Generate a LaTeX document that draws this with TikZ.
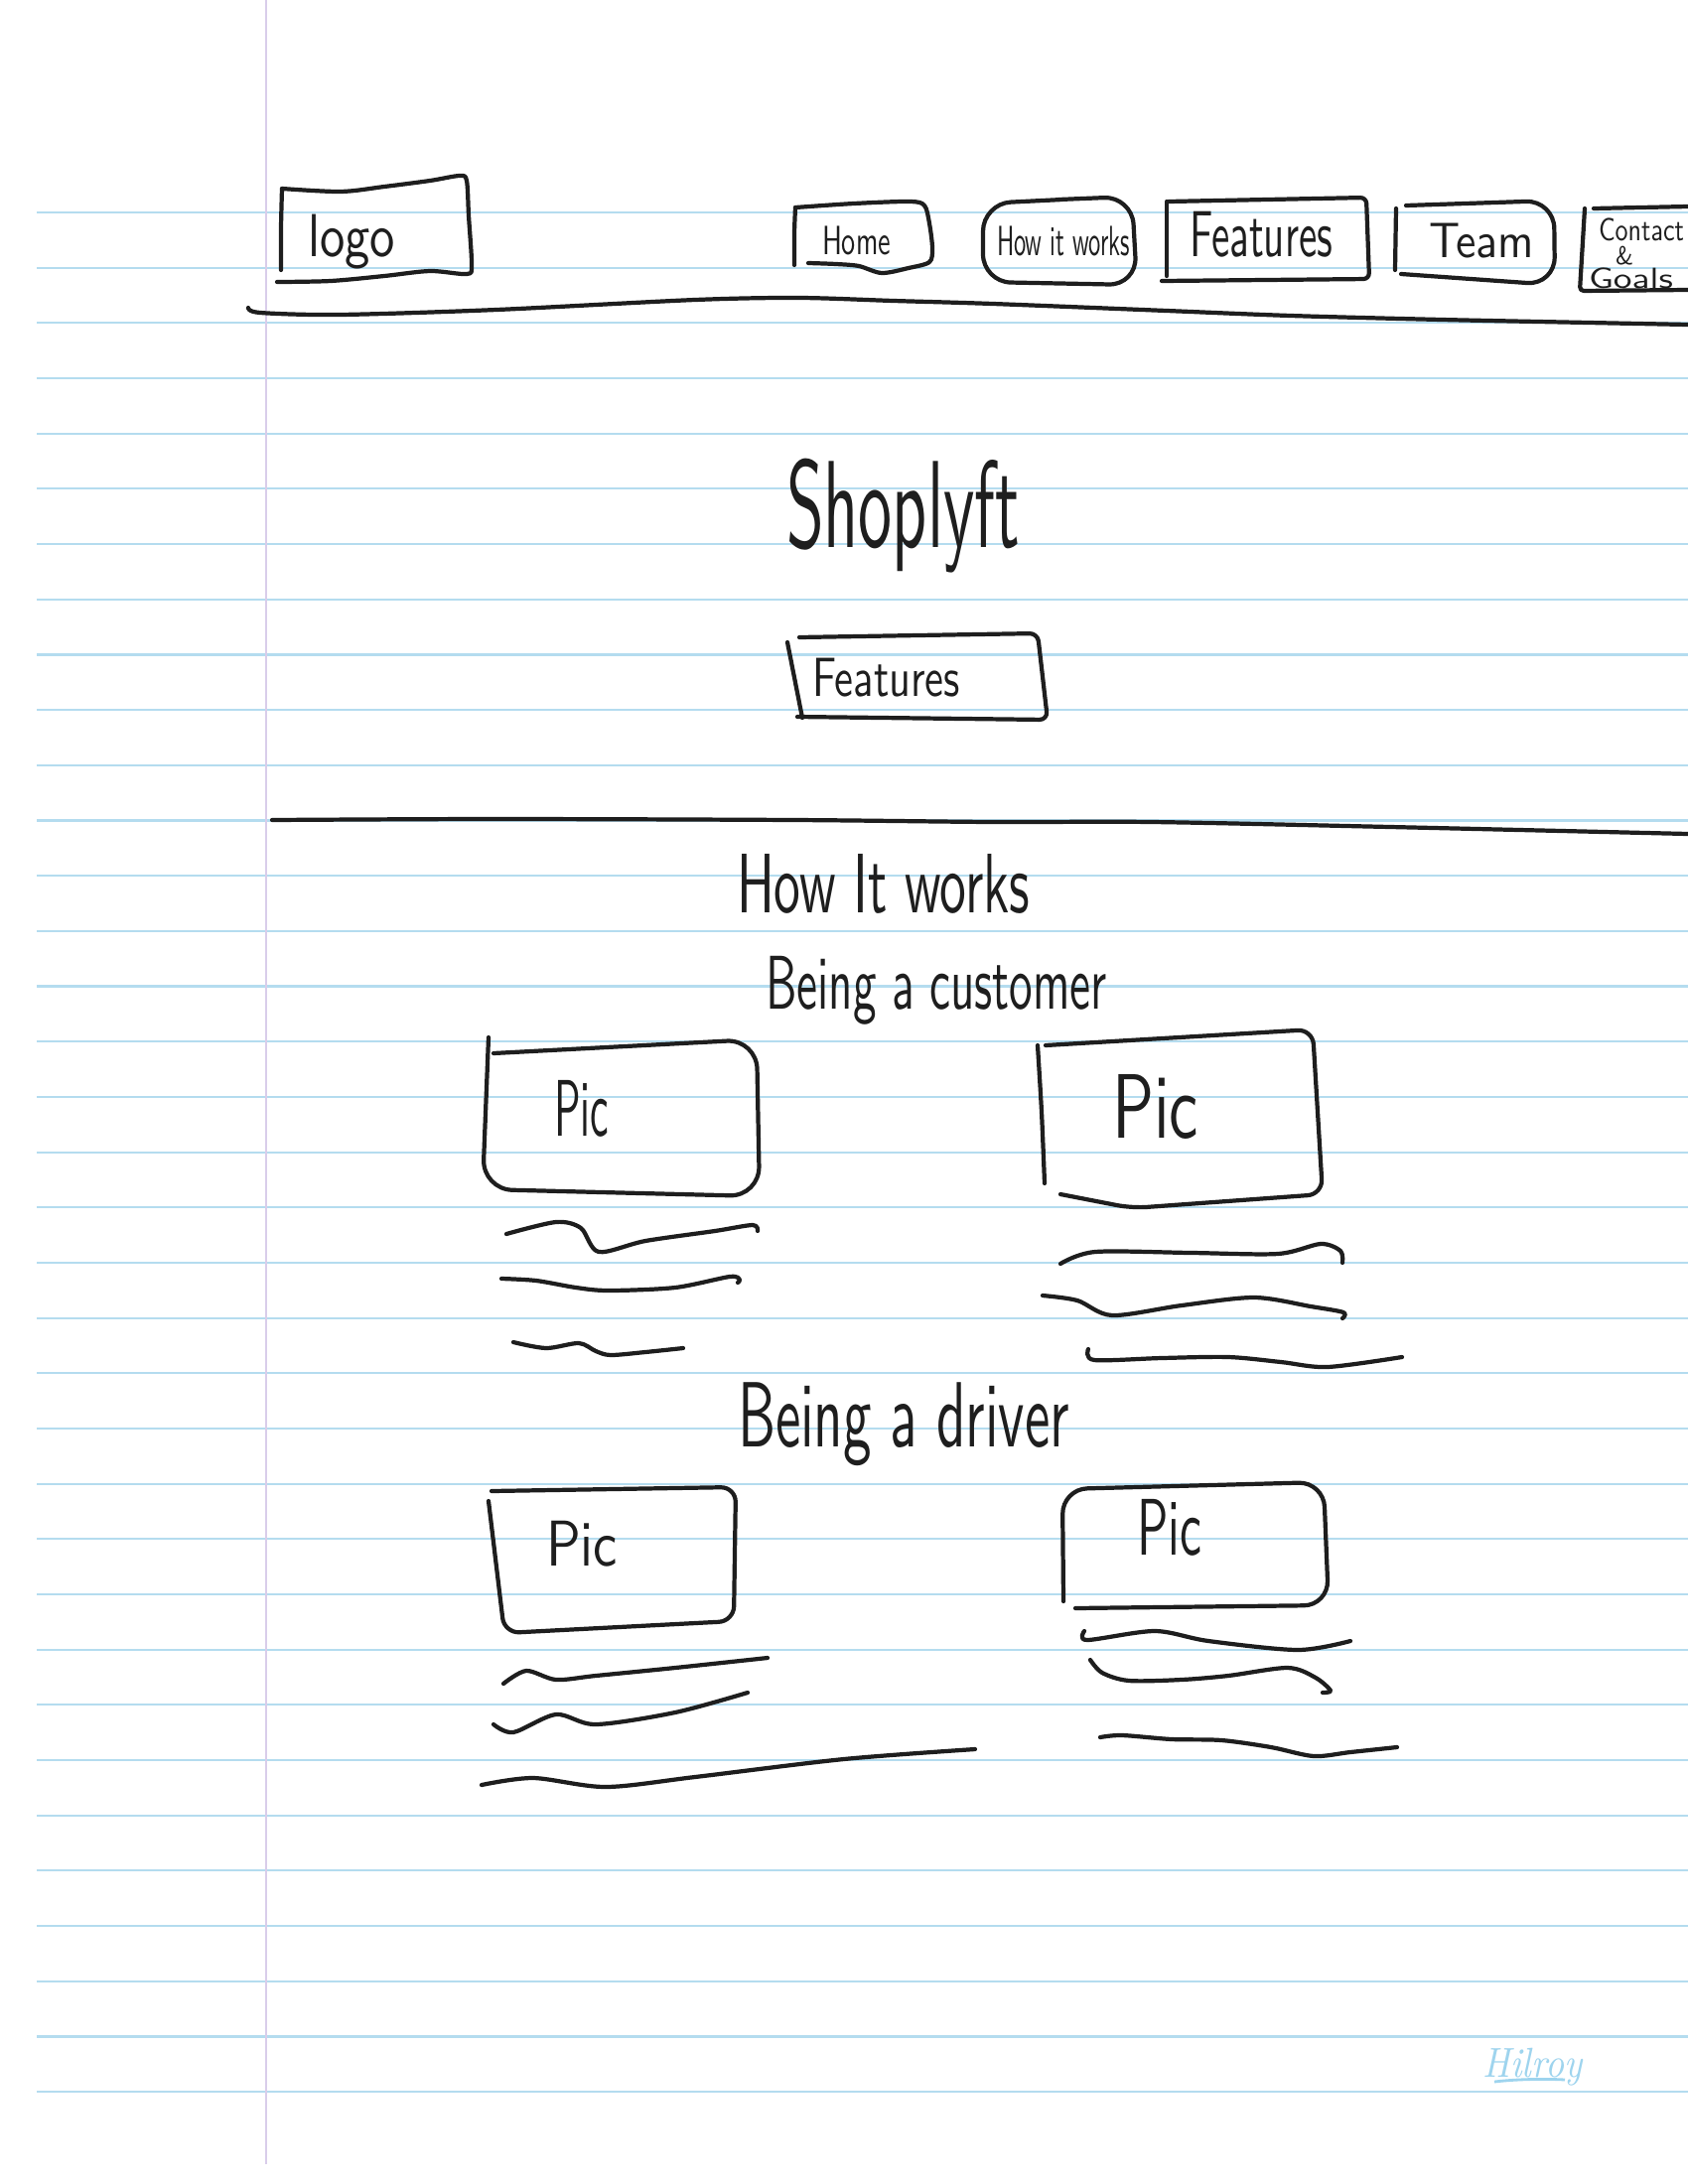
\documentclass[tikz,border=0pt]{standalone}
\usepackage{graphicx}
\definecolor{penc}{HTML}{1E1E1E}
\definecolor{rulec}{HTML}{B4DCEF}
\definecolor{marginc}{HTML}{D9CDEA}
\definecolor{hilc}{HTML}{9ED4EE}
\tikzset{
  pen/.style={draw=penc, line width=1.2pt, line cap=round, line join=round},
  ruleline/.style={draw=rulec, line width=0.6pt},
  hw/.style={inner sep=0pt, outer sep=0pt, text=penc, font=\sffamily, anchor=north west},
}
\newcommand\hwt[6]{\node[hw] (#1) at (#2,#3) {\resizebox*{#4mm}{#5mm}{#6}};}
\begin{document}
\begin{tikzpicture}[x=0.1mm,y=-0.1mm]
\useasboundingbox (0,0) rectangle (1700,2200);
\fill[white] (0,0) rectangle (1700,2200);
\begin{scope}
\clip (0,0) rectangle (1700,2200);
% ruled paper
\foreach \i in {0,...,34} {
  \pgfmathsetmacro\yy{214+55.68*\i}
  \draw[ruleline] (37,\yy) -- (1700,\yy);
}
\draw[draw=marginc, line width=0.6pt] (268,0) -- (268,2180);
\node[inner sep=0pt, anchor=north west, text=hilc, font=\itshape] (hilroy) at (1493,2062) {\resizebox*{10mm}{3.8mm}{Hilroy}};
\draw[draw=hilc, line width=0.8pt] (1505,2097) .. controls (1530,2094) and (1560,2094) .. (1576,2095);

% ---------- navigation bar ----------
\draw[pen] plot[smooth, tension=0.5] coordinates {(283,272) (283,230) (284,190)};
\draw[pen] plot[smooth, tension=0.5] coordinates {(284,190) (343,193) (387,188) (433,182) (463,177) (470,182) (472,217) (475,267) (470,276) (433,273) (387,278) (333,283) (279,284)};
\hwt{logo}{310}{216}{8.8}{5.5}{logo}

\draw[pen] plot[smooth, tension=0.5] coordinates {(800,267) (800,235) (801,209)};
\draw[pen] plot[smooth, tension=0.5] coordinates {(801,209) (860,205) (916,203) (931,207) (936,225) (939,250) (936,264) (915,270) (888,275) (865,268) (842,266) (814,265)};
\hwt{home}{828}{228}{6.9}{2.9}{Home}

\draw[pen, rounded corners=2.8mm] (1066,201) -- (1140,198) -- (1145,287) -- (990,284) -- (990,205) -- (1070,201);
\hwt{howit}{1004}{228}{13.4}{3.0}{How it works}

\draw[pen] (1175,278) -- (1175,203);
\draw[pen, rounded corners=0.6mm] (1177,203) -- (1376,199) -- (1379,281) -- (1170,283);
\hwt{featnav}{1198}{213}{14.4}{4.6}{Features}

\draw[pen] (1406,210) -- (1405,272);
\draw[pen, rounded corners=2.8mm] (1416,207) -- (1565,202) -- (1566,287) -- (1411,276);
\hwt{team}{1439}{225}{10.6}{3.5}{Team}

\draw[pen] (1605,210) -- (1700,208);
\draw[pen, rounded corners=0.4mm] (1596,210) -- (1591,293) -- (1700,292);
\hwt{contact}{1610}{220}{8.6}{2.3}{Contact}
\hwt{amp}{1627}{248}{1.8}{1.9}{\&}
\hwt{goals}{1600}{270}{8.5}{2.1}{Goals}

\draw[pen] plot[smooth] coordinates {(250,310) (262,315) (342,317) (500,312) (700,302) (805,300) (900,303) (1000,306) (1175,313) (1300,318) (1452,322) (1600,325) (1700,327)};

% ---------- hero ----------
\hwt{title}{792}{462}{23.5}{11.5}{Shoplyft}
\draw[pen] (793,647) -- (808,723);
\draw[pen, rounded corners=0.8mm] (805,642) -- (1045,638) -- (1055,725) -- (803,722);
\hwt{featbtn}{818}{663}{14.9}{3.9}{Features}

\draw[pen] plot[smooth] coordinates {(274,826) (500,825) (800,826) (1000,828) (1160,828) (1400,833) (1700,840)};

% ---------- how it works ----------
\hwt{howhead}{742}{860}{29.5}{6.0}{How It works}
\hwt{cust}{771}{963}{34.4}{6.9}{Being a customer}

\draw[pen, rounded corners=3mm] (492,1045) -- (486,1198) -- (765,1205) -- (762,1047) -- (497,1061);
\hwt{pic1}{558}{1088}{5.5}{5.7}{Pic}
\draw[pen] plot[smooth] coordinates {(510,1243) (560,1231) (585,1237) (603,1261) (650,1250) (720,1240) (758,1234) (763,1240)};
\draw[pen] plot[smooth] coordinates {(505,1288) (540,1290) (580,1297) (613,1300) (680,1297) (735,1286) (745,1289) (743,1292)};
\draw[pen] plot[smooth] coordinates {(517,1352) (550,1358) (583,1353) (600,1361) (615,1365) (650,1362) (688,1358)};

\draw[pen] plot[smooth] coordinates {(1045,1053) (1049,1120) (1052,1192)};
\draw[pen, rounded corners=1.5mm] (1053,1053) -- (1322,1037) -- (1332,1203) -- (1140,1217) -- (1068,1203);
\hwt{pic2}{1120}{1082}{8.7}{6.5}{Pic}
\draw[pen] plot[smooth] coordinates {(1068,1273) (1103,1261) (1200,1262) (1287,1263) (1330,1253) (1350,1260) (1352,1272)};
\draw[pen] plot[smooth] coordinates {(1050,1305) (1085,1310) (1120,1325) (1190,1315) (1263,1307) (1320,1316) (1353,1322) (1352,1328)};
\draw[pen] plot[smooth] coordinates {(1096,1359) (1102,1370) (1170,1368) (1237,1367) (1290,1372) (1337,1377) (1412,1367)};

\hwt{drv}{743}{1393}{33.4}{8.4}{Being a driver}

\draw[pen, rounded corners=1.5mm] (495,1502) -- (741,1498) -- (739,1633) -- (508,1645) -- (492,1512);
\hwt{pic3}{550}{1532}{7.2}{4.6}{Pic}
\draw[pen] plot[smooth] coordinates {(507,1696) (530,1683) (560,1692) (600,1688) (680,1680) (773,1670)};
\draw[pen] plot[smooth] coordinates {(497,1737) (517,1745) (560,1727) (600,1737) (680,1725) (753,1705)};
\draw[pen] plot[smooth] coordinates {(485,1798) (537,1791) (610,1800) (700,1790) (850,1772) (982,1762)};

\draw[pen, rounded corners=2.5mm] (1071,1613) -- (1070,1500) -- (1333,1493) -- (1338,1617) -- (1083,1620);
\hwt{pic4}{1145}{1510}{6.5}{5.7}{Pic}
\draw[pen] plot[smooth] coordinates {(1092,1643) (1095,1652) (1163,1643) (1217,1653) (1307,1662) (1360,1653)};
\draw[pen] plot[smooth] coordinates {(1098,1672) (1110,1685) (1137,1693) (1190,1692) (1237,1688) (1297,1680) (1325,1690) (1340,1703) (1332,1705)};
\draw[pen] plot[smooth] coordinates {(1108,1750) (1130,1748) (1180,1752) (1230,1753) (1280,1760) (1323,1769) (1360,1765) (1407,1760)};
\end{scope}
\end{tikzpicture}
\end{document}
